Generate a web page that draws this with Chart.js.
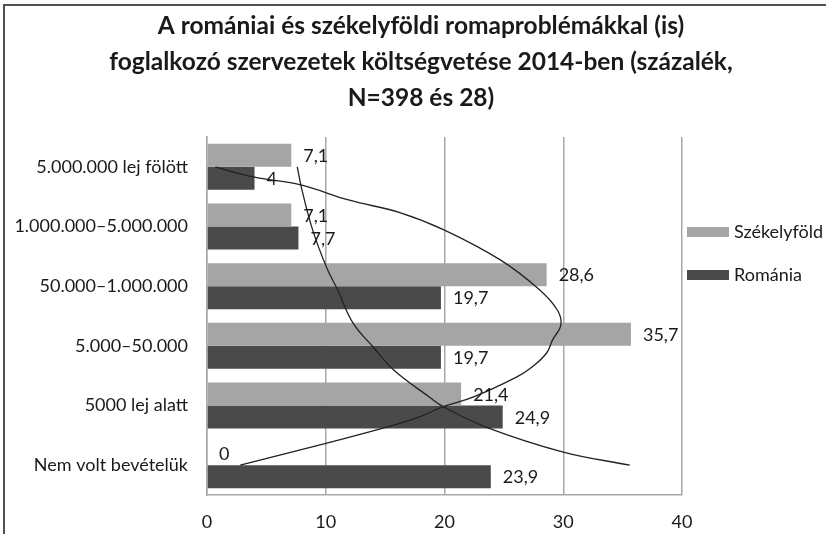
<!DOCTYPE html>
<html>
<head>
<meta charset="utf-8">
<script src="https://cdn.jsdelivr.net/npm/chart.js@4.4.1/dist/chart.umd.min.js"></script>
<style>
  body { margin: 0; background: #fff; }
  #wrap { position: relative; width: 826px; height: 534px; }
  #wrap canvas { position: absolute; left: 0; top: 0; }
</style>
</head>
<body>
<div id="wrap">
  <canvas id="myChart" width="826" height="534"></canvas>
  <canvas id="trendChart" width="826" height="534"></canvas>
</div>
<script>
const titleLines = [
    'A romániai és székelyföldi romaproblémákkal (is)',
    'foglalkozó szervezetek költségvetése 2014-ben (százalék,',
    'N=398 és 28)'
];
const categories = ['5.000.000 lej fölött', '1.000.000–5.000.000', '50.000–1.000.000', '5.000–50.000', '5000 lej alatt', 'Nem volt bevételük'];
const szekelyfold = [7.1, 7.1, 28.6, 35.7, 21.4, 0];
const romania = [4, 7.7, 19.7, 19.7, 24.9, 23.9];
const xTicks = [0, 10, 20, 30, 40];

// trendlines: value (x) and category position (0 = top row)
const trendSzekelyX   = [0.7, 3.9, 7.8, 12.0, 16.3, 20.0, 24.7, 28.0, 29.5, 29.8, 29.1, 28.6, 27.4, 26.1, 22.4, 19.9, 17.9, 15.2, 10.1, 2.8];
const trendSzekelyPos = [0.00, 0.17, 0.30, 0.56, 0.77, 1.06, 1.56, 2.06, 2.40, 2.65, 2.90, 3.12, 3.35, 3.52, 3.86, 4.02, 4.19, 4.36, 4.63, 5.00];
const trendRomaniaX   = [7.6, 8.0, 8.9, 10.1, 11.0, 12.3, 14.0, 15.7, 18.8, 19.9, 23.6, 30.0, 35.6];
const trendRomaniaPos = [0.00, 0.39, 1.06, 1.70, 2.06, 2.62, 3.02, 3.40, 3.87, 4.02, 4.37, 4.78, 5.00];

const FONT = 'Lato, "Open Sans", sans-serif';
const lightGray = '#a5a5a5';
const darkGray = '#4a4a4a';
const gridGray = '#a8a8a8';

// plot box shared by both canvases
const AREA = { left: 207, top: 137, right: 144, bottom: 39 };

const toPoints = (xs, ps) => xs.map((v, i) => ({ x: v, y: ps[i] }));
const fmt = v => String(v).replace('.', ',');

const frameAndTitle = {
    id: 'frameAndTitle',
    beforeDraw(chart) {
        const c = chart.ctx;
        c.save();
        c.fillStyle = '#fff';
        c.fillRect(0, 0, chart.width, chart.height);
        c.strokeStyle = '#505050';
        c.lineWidth = 2;
        c.strokeRect(4, 5, chart.width + 20, chart.height + 20);
        c.fillStyle = '#1a1a1a';
        c.font = 'bold 24.5px ' + FONT;
        c.textAlign = 'center';
        c.textBaseline = 'middle';
        titleLines.forEach((t, i) => c.fillText(t, 421, 26 + i * 36));
        c.restore();
    }
};

const valueLabels = {
    id: 'valueLabels',
    afterDatasetsDraw(chart) {
        const c = chart.ctx;
        c.save();
        c.fillStyle = '#1a1a1a';
        c.font = '18px ' + FONT;
        c.textAlign = 'left';
        c.textBaseline = 'middle';
        chart.data.datasets.forEach((ds, di) => {
            chart.getDatasetMeta(di).data.forEach((bar, i) => {
                c.fillText(fmt(ds.data[i]), bar.x + 12, bar.y + 1);
            });
        });
        c.restore();
    }
};

const sideLegend = {
    id: 'sideLegend',
    afterDraw(chart) {
        const c = chart.ctx;
        c.save();
        c.font = '18px ' + FONT;
        c.textBaseline = 'middle';
        c.textAlign = 'left';
        chart.data.datasets.forEach((ds, k) => {
            const y = 232 + k * 43;
            c.fillStyle = ds.backgroundColor;
            c.fillRect(687, y - 5, 42, 10);
            c.fillStyle = '#1a1a1a';
            c.fillText(ds.label, 734, y);
        });
        c.restore();
    }
};

const chart = new Chart(document.getElementById('myChart').getContext('2d'), {
    type: 'bar',
    data: {
        labels: categories,
        datasets: [
            {
                label: 'Székelyföld',
                data: szekelyfold,
                backgroundColor: lightGray,
                categoryPercentage: 0.77,
                barPercentage: 1.0
            },
            {
                label: 'Románia',
                data: romania,
                backgroundColor: darkGray,
                categoryPercentage: 0.77,
                barPercentage: 1.0
            }
        ]
    },
    options: {
        indexAxis: 'y',
        responsive: false,
        animation: false,
        layout: { padding: { left: 0, top: AREA.top, right: AREA.right, bottom: 0 } },
        plugins: {
            legend: { display: false },
            title: { display: false },
            tooltip: { enabled: false }
        },
        scales: {
            x: {
                type: 'linear',
                min: 0,
                max: 40,
                afterBuildTicks: scale => { scale.ticks = xTicks.map(v => ({ value: v })); },
                grid: { color: gridGray, lineWidth: 1.5, drawTicks: false },
                border: { color: gridGray, width: 1.5 },
                ticks: { color: '#1a1a1a', font: { family: FONT, size: 18 }, padding: 16 },
                afterFit: scale => { scale.height = AREA.bottom; }
            },
            y: {
                type: 'category',
                grid: { display: false, drawTicks: false },
                border: { color: gridGray, width: 1.5 },
                ticks: { color: '#1a1a1a', font: { family: FONT, size: 18 }, padding: 19 },
                afterFit: scale => { scale.width = AREA.left; }
            }
        }
    },
    plugins: [frameAndTitle, valueLabels, sideLegend]
});

// trendlines on a transparent overlay with the same plot box
const trendChart = new Chart(document.getElementById('trendChart').getContext('2d'), {
    type: 'line',
    data: {
        datasets: [
            {
                label: 'trend Székelyföld',
                data: toPoints(trendSzekelyX, trendSzekelyPos),
                borderColor: '#222',
                borderWidth: 1.3,
                pointRadius: 0,
                tension: 0.4,
                fill: false
            },
            {
                label: 'trend Románia',
                data: toPoints(trendRomaniaX, trendRomaniaPos),
                borderColor: '#222',
                borderWidth: 1.3,
                pointRadius: 0,
                tension: 0.4,
                fill: false
            }
        ]
    },
    options: {
        indexAxis: 'y',
        responsive: false,
        animation: false,
        layout: { padding: AREA },
        plugins: { legend: { display: false }, tooltip: { enabled: false } },
        scales: {
            x: { type: 'linear', min: 0, max: 40, display: false },
            y: { type: 'linear', min: -0.5, max: 5.5, reverse: true, display: false, offset: false }
        }
    }
});
</script>
</body>
</html>
